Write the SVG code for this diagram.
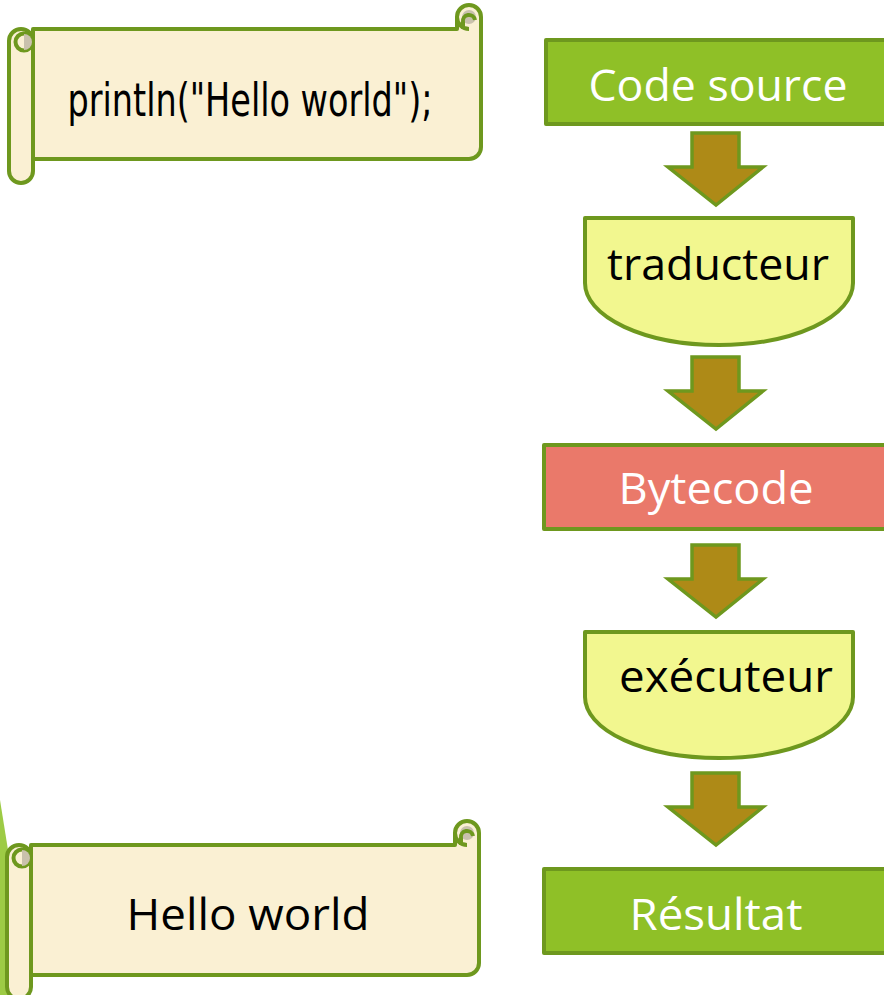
<svg xmlns="http://www.w3.org/2000/svg" width="884" height="995" viewBox="0 0 884 995">
  <style>
    .ol { stroke: #6E981E; stroke-width: 4; stroke-linejoin: round; }
    .cream { fill: #FAF0D3; }
    .grey { fill: #C9C1AC; }
    .arrow { fill: #AE8A17; stroke: #6E981E; stroke-width: 3.5; stroke-linejoin: miter; }
    .boxg { fill: #8FC027; }
    .boxr { fill: #EA796A; }
    .half { fill: #F2F78F; }
    .wt { fill: #FFFFFF; font-family: "Open Sans", "Noto Sans", sans-serif; font-size: 44px; text-anchor: middle; }
    .bt { fill: #000000; font-family: "Open Sans", "Noto Sans", sans-serif; font-size: 44px; text-anchor: middle; }
  </style>
  <defs>
    <g id="scroll">
      <path class="cream ol" d="M 33,29 H 457 V 17 A 12 12 0 0 1 481 17 V 147 A 12 12 0 0 1 469 159 H 33 Z"/>
      <circle class="grey" cx="469" cy="17" r="7"/>
      <path fill="none" class="ol" d="M 457,17 A 12 12 0 0 0 469 29 M 463,29 V 22 A 6 6 0 0 1 475 20"/>
      <rect class="cream ol" x="9" y="29" width="24" height="154" rx="12" ry="12"/>
      <circle class="cream ol" cx="24" cy="42" r="8.5"/>
      <path class="grey" d="M 24,34 A 8 8 0 0 1 24 50 Z"/>
    </g>
    <path id="arr" class="arrow" d="M 692,0 H 739 V 34 H 763 L 716,72 L 668,34 H 692 Z"/>
  </defs>

  <path id="deco" d="M 0,800 L 8,850 V 995 H 0 Z" fill="#9DCB45"/>

  <g id="scroll-code">
    <use href="#scroll"/>
    <text x="250" y="116" font-family="'DejaVu Sans Condensed', 'DejaVu Sans', sans-serif" font-size="47" text-anchor="middle" textLength="365" lengthAdjust="spacingAndGlyphs" fill="#000">println("Hello world");</text>
  </g>

  <g id="scroll-result">
    <use href="#scroll" transform="translate(-2,816)"/>
    <text class="bt" x="248" y="930" textLength="243" lengthAdjust="spacingAndGlyphs">Hello world</text>
  </g>

  <g id="code-source">
    <rect class="boxg ol" x="546" y="40" width="350" height="84"/>
    <text class="wt" x="718" y="101" textLength="259" lengthAdjust="spacingAndGlyphs">Code source</text>
  </g>

  <g id="traducteur">
    <path class="half ol" d="M 585,218 H 853 V 283 A 134 62 0 0 1 585 283 Z"/>
    <text class="bt" x="718" y="280" textLength="222" lengthAdjust="spacingAndGlyphs">traducteur</text>
  </g>

  <g id="bytecode">
    <rect class="boxr ol" x="544" y="445" width="350" height="84"/>
    <text class="wt" x="716" y="504" textLength="195" lengthAdjust="spacingAndGlyphs">Bytecode</text>
  </g>

  <g id="executeur">
    <path class="half ol" d="M 585,632 H 853 V 697 A 134 61 0 0 1 585 697 Z"/>
    <text class="bt" x="726" y="692" textLength="214" lengthAdjust="spacingAndGlyphs">exécuteur</text>
  </g>

  <g id="resultat">
    <rect class="boxg ol" x="544" y="869" width="350" height="84"/>
    <text class="wt" x="716" y="930" textLength="173" lengthAdjust="spacingAndGlyphs">Résultat</text>
  </g>

  <g id="connectors">
    <use href="#arr" transform="translate(0,133)"/>
    <use href="#arr" transform="translate(0,357)"/>
    <use href="#arr" transform="translate(0,545)"/>
    <use href="#arr" transform="translate(0,773)"/>
  </g>
</svg>
